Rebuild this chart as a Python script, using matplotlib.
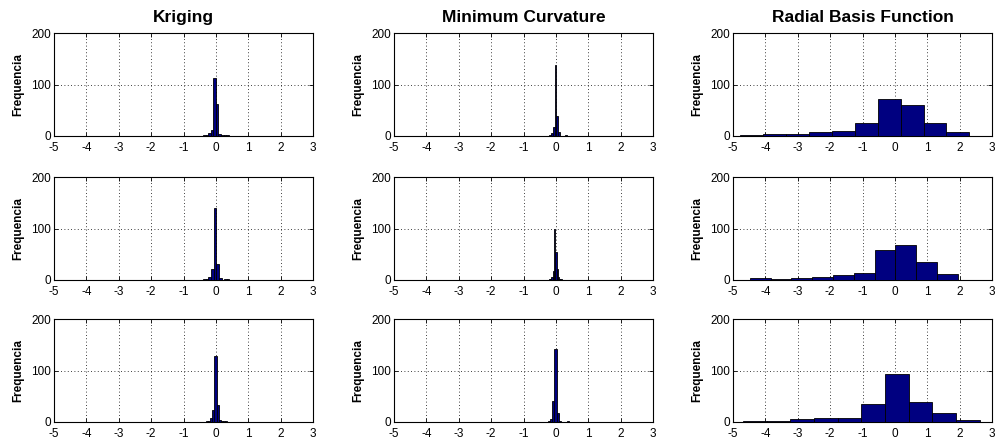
import numpy as np
import matplotlib
matplotlib.use("Agg")
import matplotlib.pyplot as plt

plt.rcParams['font.family'] = ['Liberation Sans', 'DejaVu Sans']

methods = ["Kriging", "Minimum Curvature", "Radial Basis Function"]
ylabel = "Frequencia"
xticks = [-5, -4, -3, -2, -1, 0, 1, 2, 3]
yticks = [0, 100, 200]

# Histogram bin ranges (min, max of residuals) and counts (10 bins each), row by row
krig_ranges = [(-0.40, 0.40), (-0.40, 0.42), (-0.31, 0.35)]
krig_counts = [
    [1, 2, 5, 12, 113, 62, 4, 1, 1, 1],
    [1, 2, 6, 21, 140, 31, 3, 0, 1, 1],
    [1, 2, 7, 23, 128, 33, 3, 1, 2, 1],
]
mc_ranges = [(-0.20, 0.34), (-0.22, 0.18), (-0.24, 0.41)]
mc_counts = [
    [1, 6, 18, 137, 39, 8, 0, 0, 0, 1],
    [1, 2, 6, 18, 100, 55, 22, 6, 2, 1],
    [1, 5, 41, 141, 17, 2, 0, 0, 0, 1],
]
rbf_ranges = [(-4.77, 2.30), (-4.48, 1.94), (-4.69, 2.62)]
rbf_counts = [
    [1, 3, 3, 7, 9, 26, 72, 61, 25, 7],
    [4, 1, 4, 6, 9, 14, 59, 67, 34, 12],
    [1, 1, 5, 7, 7, 34, 94, 38, 17, 3],
]

all_ranges = [krig_ranges, mc_ranges, rbf_ranges]
all_counts = [krig_counts, mc_counts, rbf_counts]

W, H = 996, 446
fig = plt.figure(figsize=(W / 100, H / 100), dpi=100)
fig.patch.set_facecolor('white')

col_left = [54, 394, 733]
row_top = [33, 177, 319]
aw, ah = 259, 103

for c in range(3):
    for r in range(3):
        left = col_left[c] / W
        bottom = 1 - (row_top[r] + ah) / H
        ax = fig.add_axes([left, bottom, aw / W, ah / H])
        lo, hi = all_ranges[c][r]
        counts = np.array(all_counts[c][r])
        n = len(counts)
        edges = np.linspace(lo, hi, n + 1)
        centers = 0.5 * (edges[:-1] + edges[1:])
        width = edges[1] - edges[0]
        ax.bar(centers, counts, width=width, color='#000080',
               edgecolor='black', linewidth=0.6, zorder=3)
        ax.set_xlim(-5, 3)
        ax.set_ylim(0, 200)
        ax.set_xticks(xticks)
        ax.set_yticks(yticks)
        ax.set_xticklabels([str(t) for t in xticks], fontsize=8.5)
        ax.set_yticklabels([str(t) for t in yticks], fontsize=8.5)
        ax.grid(True, linestyle=(0, (1, 3)), color='black', linewidth=0.6, zorder=1)
        ax.tick_params(direction='in', length=3, width=0.6, top=True, right=True)
        ax.tick_params(axis='x', pad=4)
        ax.tick_params(axis='y', pad=2)
        for s in ax.spines.values():
            s.set_linewidth(0.8)
        ax.set_ylabel(ylabel, fontsize=8.5, fontweight='bold', labelpad=5)
        if r == 0:
            ax.set_title(methods[c], fontsize=12.5, fontweight='bold', pad=8)

fig.savefig("out.png", dpi=100, facecolor='white')
